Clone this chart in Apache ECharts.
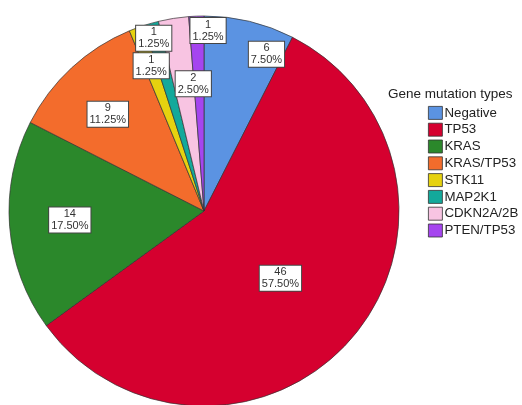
<!DOCTYPE html>
<html>
<head>
<meta charset="utf-8">
<script src="https://cdn.jsdelivr.net/npm/echarts@6/dist/echarts.min.js"></script>
<style>html,body{margin:0;padding:0;background:#fff;}#c{width:522px;height:405px;}</style>
</head>
<body>
<div id="c"></div>
<script>
var categories = ['Negative', 'TP53', 'KRAS', 'KRAS/TP53', 'STK11', 'MAP2K1', 'CDKN2A/2B', 'PTEN/TP53'];
var counts = [6, 46, 14, 9, 1, 1, 2, 1];
var colors = ['#5b93e2', '#d5002f', '#2b882b', '#f36c2c', '#e6d20f', '#13a99b', '#f8c4e2', '#a545ef'];
var labelOffsets = [[39, -59], [0, 2], [-34, 1], [-28, -23], [-18, -51], [-23, -76], [5, -28], [8, -80]];

var total = counts.reduce(function (a, b) { return a + b; }, 0);
var data = categories.map(function (n, i) {
  return {
    name: n, value: counts[i],
    itemStyle: { color: colors[i] },
    label: { offset: labelOffsets[i] }
  };
});

var chart = echarts.init(document.getElementById('c'));
chart.setOption({
  animation: false,
  textStyle: { fontFamily: 'Liberation Sans, Arial, sans-serif' },
  title: {
    text: 'Gene mutation types',
    left: 383, top: 82,
    textStyle: { fontSize: 13.5, fontWeight: 'normal', color: '#222', fontFamily: 'Liberation Sans, Arial, sans-serif' }
  },
  legend: {
    orient: 'vertical',
    left: 423, top: 101,
    itemWidth: 14, itemHeight: 13, itemGap: 3.0,
    icon: 'rect',
    itemStyle: { borderColor: '#333', borderWidth: 0.8 },
    textStyle: { fontSize: 13.3, color: '#222', padding: [0, 0, 0, -3] },
    data: categories
  },
  series: [{
    type: 'pie',
    center: [204, 211],
    radius: 195,
    startAngle: 90,
    clockwise: true,
    avoidLabelOverlap: false,
    itemStyle: { borderColor: '#333', borderWidth: 0.7 },
    emphasis: { disabled: true },
    label: {
      show: true,
      position: 'inside',
      formatter: function (p) { return p.value + '\n' + (p.value / total * 100).toFixed(2) + '%'; },
      fontSize: 11,
      lineHeight: 12,
      color: '#333',
      backgroundColor: '#fff',
      borderColor: '#444',
      borderWidth: 1,
      padding: [1, 2, 0, 2],
      align: 'center'
    },
    labelLine: { show: false },
    data: data
  }]
});
</script>
</body>
</html>
